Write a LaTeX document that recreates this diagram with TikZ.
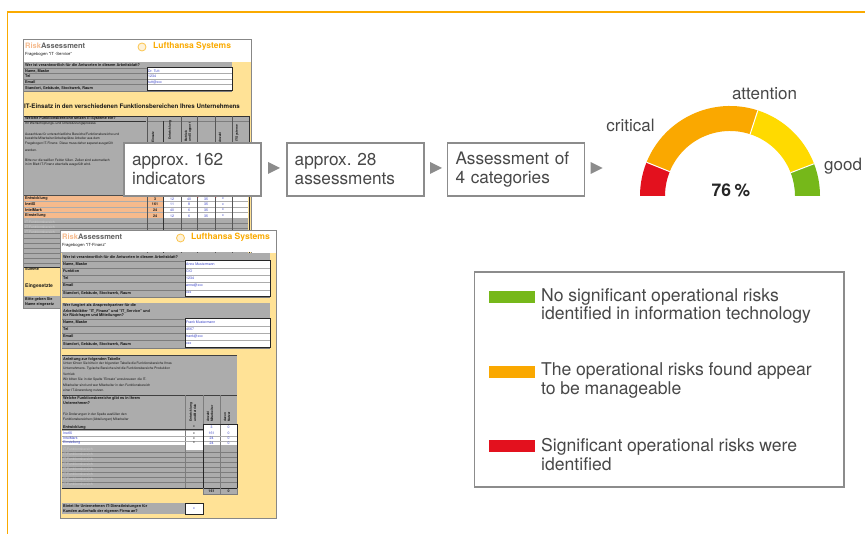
\documentclass[tikz,border=0pt]{standalone}
\usepackage{fontspec}
\setmainfont[WordSpace=0.95]{TeX Gyre Heros}
\usetikzlibrary{calc}
\definecolor{frameor}{RGB}{250,170,0}
\definecolor{ink}{RGB}{72,72,72}
\definecolor{sheetline}{RGB}{135,135,135}
\definecolor{boxline}{RGB}{140,140,140}
\definecolor{sheety}{RGB}{255,226,150}
\definecolor{rowgrey}{RGB}{172,172,172}
\definecolor{rowline}{RGB}{125,125,125}
\definecolor{peach}{RGB}{246,186,140}
\definecolor{gred}{RGB}{227,17,30}
\definecolor{gor}{RGB}{250,168,0}
\definecolor{gye}{RGB}{255,218,0}
\definecolor{ggr}{RGB}{118,184,26}
\definecolor{tiny}{RGB}{25,25,25}
\definecolor{tinyb}{RGB}{60,70,200}
\definecolor{pale}{RGB}{205,205,205}
\newcommand{\up}[1]{\raisebox{1.6pt}{#1}}
\tikzset{
 x=1pt,y=-1pt,
 stepbox/.style={draw=boxline,line width=1.8pt,fill=white,inner sep=0,minimum height=53pt,minimum width=137pt,text=ink,font=\frenchspacing\fontsize{17.2}{19}\selectfont,align=left,text width=121pt},
 tri/.style={fill=boxline,draw=none},
 lab/.style={text=ink,font=\fontsize{17}{19}\selectfont,inner sep=0},
 legt/.style={text=ink,font=\fontsize{17.6}{18.5}\selectfont,align=left,anchor=west,inner sep=0},
 legbar/.style={draw=none,minimum width=46pt,minimum height=12pt,inner sep=0,anchor=west},
 tt/.style={font=\fontsize{3.8}{4}\selectfont\bfseries,text=tiny,inner sep=0,anchor=west},
 tl/.style={font=\fontsize{3.3}{4}\selectfont,text=tiny,inner sep=0,anchor=west},
 tb/.style={font=\fontsize{3.5}{4}\selectfont,text=tinyb,inner sep=0,anchor=west},
 tp/.style={font=\fontsize{3.4}{4}\selectfont,text=pale,inner sep=0,anchor=west},
 tc/.style={font=\fontsize{3.5}{4}\selectfont,text=tinyb,inner sep=0},
 td/.style={font=\fontsize{3.6}{4}\selectfont\bfseries,text=tiny,inner sep=0},
 tv/.style={font=\fontsize{3.2}{4}\selectfont\bfseries,text=tiny,inner sep=0,rotate=90,anchor=west},
 sep/.style={draw=white,line width=1pt},
}
\newcommand{\seg}[3]{\fill[#3] (#1:90pt) arc[start angle=#1,end angle=#2,radius=90pt] -- (#2:65pt) arc[start angle=#2,end angle=#1,radius=65pt] -- cycle;}
\begin{document}
\begin{tikzpicture}
\useasboundingbox (0,0) rectangle (865,534);
\fill[white] (0,0) rectangle (865,534);
% frame
\draw[frameor,line width=1.7pt] (865,12) -- (7.5,12) -- (7.5,534);
% sheet 1
\fill[sheety] (24,62) rectangle (251,308);
\fill[white] (24,40) rectangle (251,61);
\node[font=\fontsize{7.5}{8}\selectfont\bfseries,inner sep=0,anchor=west] (s1a) at (25,46) {\textcolor{peach}{Risk}\textcolor{ink!85}{Assessment}};
\node[tt,font=\fontsize{4.2}{4}\selectfont] (s1b) at (25,54) {Fragebogen "IT -Service"};
\node[font=\fontsize{8.5}{9}\selectfont\bfseries,text=frameor,inner sep=0,anchor=west] (s1c) at (153,46.5) {Lufthansa Systems};
\draw[frameor!70,fill=frameor!15,line width=.8pt] (142,47) circle (4);
\fill[rowgrey] (24,62) rectangle (232,91);
\foreach \y in {68,73.5,79,84.5,91} \draw[rowline,line width=.4pt] (24,\y) -- (232,\y);
\node[tt] at (25,65) {Wer ist verantwortlich für die Antworten in diesem Arbeitsblatt?};
\node[tt] at (25,71) {Name, Maske};
\node[tt] at (25,76) {Tel};
\node[tt] at (25,82) {Email};
\node[tt] at (25,88) {Standort, Gebäude, Stockwerk, Raum};
\fill[white] (147,68) rectangle (232,91);
\foreach \y in {73.5,79,84.5} \draw[rowgrey,line width=.8pt] (147,\y) -- (232,\y);
\draw[black!85,line width=1pt] (147,68) rectangle (232,91);
\node[tb] at (148,71) {Dr. Tutt};
\node[tb] at (148,76) {1234};
\node[tb] at (148,82) {tutt@xxx};
\node[font=\fontsize{6.2}{6}\selectfont\bfseries,inner sep=0,anchor=west,text=tiny] at (24,106.5) {IT-Einsatz in den verschiedenen Funktionsbereichen Ihres Unternehmens};
\fill[rowgrey] (24,116) rectangle (249,196);
\draw[gray!40!black,line width=.5pt] (24,116) -- (249,116) (24,121) -- (146,121);
\draw[rowline,line width=.4pt] (147,121) -- (249,121);
\node[tt] at (25,118.5) {Welche Funktionsbereiche setzen IT-Systeme ein?};
\node[tl] at (25,124) {Ihr Wertschöpfungs- und Unterstützungsprozess};
\node[tl] at (25,134) {Ausschluss für unterschiedliche Bereiche/Funktionsbereiche und};
\node[tl] at (25,139) {bezahlte Mitarbeiter/Arbeitsplätze Arbeiter aus dem};
\node[tl] at (25,144) {Fragebogen IT-Finanz. Diese muss daher separat ausgefüllt};
\node[tl] at (25,150) {werden.};
\node[tl] at (25,160) {Bitte nur die weißen Felder füllen. Zellen sind automatisch};
\node[tl] at (25,165) {in im Blatt IT-Finanz ebenfalls ausgefüllt wird.};
\node[tv] at (153,143) {Einsatz};
\node[tv] at (170,140) {Entwicklung};
\node[tv] at (186,142) {Betrieb};
\node[tv] at (190,142) {und Support};
\node[tv] at (220,143) {Anzahl};
\node[tv] at (237,142) {IT-Systeme};
\fill[peach] (24,196) rectangle (163,218);
\fill[white] (163,196) rectangle (248,218);
\fill[rowgrey] (24,218) rectangle (248,267);
\foreach \y in {201,207,212.5,218} \draw[rowgrey,line width=.5pt] (24,\y) -- (248,\y);
\foreach \y in {223,228,233,238,243,248,253,258,263} \draw[rowline,line width=.4pt] (24,\y) -- (248,\y);
\foreach \x in {147,181,197,215,232} \draw[rowline!70!black,line width=.4pt] (\x,116) -- (\x,268);
\draw[black!80,line width=.8pt] (163,121) -- (163,268);
\draw[black!80,line width=.8pt] (249,116) -- (249,268);
\draw[black!70,line width=.5pt] (24,195.6) -- (249,195.6);
\foreach \y/\n/\t/\a/\b/\c/\d in {199/Entwicklung/3/12/40/35/x,204.5/InetIX/161/11/8/35/x,210/IntelMark/24/40/6/35/x,216/Einstellung/24/12/6/35/x}{
 \node[tt] at (25,\y) {\n};
 \node[td] at (155,\y) {\t};
 \node[tc] at (172,\y) {\a};
 \node[tc] at (189,\y) {\b};
 \node[tc] at (206,\y) {\c};
 \node[tc] at (223,\y) {\d};
}
\foreach \y in {222,227,232} \node[tp] at (25,\y) {IT-Funktionsbereich};
\foreach \p in {196.5,214.5} \fill[gred] (\p,196) -- (\p+1.6,196) -- (\p+1.6,198) -- cycle;
\draw[black!80,line width=.8pt] (24,267) -- (60,267);
\node[tt] at (25,269) {Summe};
\node[tt,font=\fontsize{5}{5}\selectfont\bfseries] at (25,286) {Eingesetzte};
\fill[rowgrey] (24,296) rectangle (60,308);
\node[tt] at (25,299.5) {Bitte geben Sie};
\node[tt] at (25,304.5) {Name eingesetz};
\draw[sheetline,line width=1.3pt] (23.5,39.5) rectangle (251.5,308.5);
% sheet 2
\fill[sheety] (61,253) rectangle (276,518);
\fill[white] (61,231) rectangle (276,252.5);
\node[font=\fontsize{7.5}{8}\selectfont\bfseries,inner sep=0,anchor=west] at (62,237) {\textcolor{peach}{Risk}\textcolor{ink!85}{Assessment}};
\node[tt,font=\fontsize{4.2}{4}\selectfont] at (62,245) {Fragebogen "IT-Finanz"};
\node[font=\fontsize{8.6}{9}\selectfont\bfseries,text=frameor,inner sep=0,anchor=west] at (191,237.5) {Lufthansa Systems};
\draw[frameor!70,fill=frameor!15,line width=.8pt] (180.5,238) circle (4);
\fill[rowgrey] (62,253) rectangle (270,297);
\foreach \y in {261,268,275,282,290,297} \draw[rowline,line width=.4pt] (62,\y) -- (270,\y);
\node[tt] at (63,257) {Wer ist verantwortlich für die Antworten in diesem Arbeitsblatt?};
\node[tt] at (63,264) {Name, Maske};
\node[tt] at (63,271) {Funktion};
\node[tt] at (63,278) {Tel};
\node[tt] at (63,285) {Email};
\node[tt] at (63,293) {Standort, Gebäude, Stockwerk, Raum};
\fill[white] (185,261) rectangle (270,297);
\foreach \y in {268,275,282,290} \draw[rowgrey,line width=.8pt] (185,\y) -- (270,\y);
\draw[black!85,line width=1pt] (185,261) rectangle (270,297);
\node[tb] at (186,264) {Anne Mustermann};
\node[tb] at (186,271) {CIO};
\node[tb] at (186,278) {1234};
\node[tb] at (186,285) {anne@xxx};
\node[tb] at (186,293) {xxx};
\fill[rowgrey] (62,303) rectangle (270,348);
\foreach \y in {319,326,333,340,348} \draw[rowline,line width=.4pt] (62,\y) -- (270,\y);
\node[tt] at (63,306) {Wer fungiert als Ansprechpartner für die};
\node[tt] at (63,311) {Arbeitsblätter "IT\_Finanz" und "IT\_Service" und};
\node[tt] at (63,316) {für Rückfragen und Mitteilungen?};
\node[tt] at (63,322.5) {Name, Maske};
\node[tt] at (63,329.5) {Tel};
\node[tt] at (63,336.5) {Email};
\node[tt] at (63,344) {Standort, Gebäude, Stockwerk, Raum};
\fill[white] (185,319) rectangle (270,348);
\foreach \y in {326,333,340} \draw[rowgrey,line width=.8pt] (185,\y) -- (270,\y);
\draw[black!85,line width=1pt] (185,319) rectangle (270,348);
\node[tb] at (186,322.5) {Frank Mustermann};
\node[tb] at (186,329.5) {4567};
\node[tb] at (186,336.5) {frank@xxx};
\node[tb] at (186,344) {xxx};
\fill[rowgrey] (62,355) rectangle (237,488);
\draw[gray!50!black,line width=.5pt] (62,355) -- (237,355) (62,395) -- (237,395);
\node[tt] at (63,359) {Anleitung zur folgenden Tabelle};
\foreach \y/\t in {364/Unten führen Sie bitte in der folgenden Tabelle die Funktionsbereiche Ihres,
 369/Unternehmens. Typische Bereiche sind die Funktionsbereiche Produktion\, ,
 374/Vertrieb/Marketing\, Verwaltung und Einkauf enthalten.,
 380/Wir bitten Sie\, in der Spalte "Einsatz" anzukreuzen\, die IT-,
 385/Mitarbeiter sind und wer Mitarbeiter in den Funktionsbereich,
 391/einer IT-Anwendung nutzen.}
 \node[tl] at (63,\y) {\t};
\node[tt] at (63,398) {Welche Funktionsbereiche gibt es in Ihrem};
\node[tt] at (63,403) {Unternehmen?};
\node[tl] at (63,414) {Für Änderungen in der Spalte ausfüllen den};
\node[tl] at (63,420) {Funktionsbereichen (Abteilungen) Mitarbeiter};
\node[tv] at (191,422) {Entwicklung};
\node[tv] at (195,422) {und Betrieb};
\node[tv] at (208,422) {Anzahl};
\node[tv] at (212,422) {Mitarbeiter};
\node[tv] at (225,422) {davon};
\node[tv] at (229,422) {Nutzer};
\fill[white] (62,431) rectangle (237,445);
\fill[white] (185,445) rectangle (203,450);
\fill[white] (203,424) rectangle (237,431);
\fill[rowgrey] (62,424) rectangle (203,429);
\foreach \x in {185,220} \draw[rowline,line width=.4pt] (\x,395) -- (\x,488);
\draw[rowline,line width=.4pt] (203,395) -- (203,424);
\foreach \y in {436.5,441} \draw[rowgrey,line width=.6pt] (62,\y) -- (237,\y);
\draw[black!80,line width=.8pt] (62,429) -- (203,429);
\node[tt] at (63,427) {Entwicklung};
\node[tb] at (63,433.7) {InetIX};
\node[tb] at (63,438.7) {IntelMark};
\node[tb] at (63,443) {Einstellung};
\foreach \y/\a/\b/\c in {427/x/3/0,433.7/x/161/0,438.7/x/24/0,443/x/24/0}{
 \node[tc,text=tiny] at (194,\y) {\a};
 \node[tc] at (211.5,\y) {\b};
 \node[tc] at (228.5,\y) {\c};
}
\foreach \y in {452,457,462,467,472,477,482} \draw[rowline,line width=.4pt] (62,\y) -- (237,\y);
\foreach \y in {449.5,454.5,459.5,464.5,469.5,474.5,479.5,484.5} \node[tp] at (63,\y) {IT-Funktionsbereich};
\fill[rowgrey] (203,488) rectangle (237,494);
\draw[black!85,line width=.9pt] (203,424) rectangle (237,488);
\draw[black!85,line width=.9pt] (62,488) -- (237,488);
\draw[rowline,line width=.5pt] (203,488) -- (203,494) -- (237,494) -- (237,488) (220,488) -- (220,494);
\node[td] at (211.5,491) {161};
\node[td] at (228.5,491) {0};
\fill[rowgrey] (62,503) rectangle (185,514);
\node[tt] at (63,506) {Bietet Ihr Unternehmen IT-Dienstleistungen für};
\node[tt] at (63,511) {Kunden außerhalb der eigenen Firma an?};
\fill[white] (185,503) rectangle (203,514);
\draw[black!85,line width=1pt] (185,503) rectangle (203,514);
\node[tb,anchor=center] at (194,508.5) {x};
\draw[sheetline,line width=1.3pt] (60.5,230.5) rectangle (276.5,518.5);
% flow
\node[stepbox] (a) at (192.5,169.3) {\up{approx. 162}\\\up{indicators}};
\node[stepbox] (b) at (355.2,169.3) {\up{approx. 28}\\\up{assessments}};
\node[stepbox] (c) at (516,169.3) {\up{Assessment of}\\\up{4 categories}};
\fill[tri] (268,162) -- (280,168) -- (268,174) -- cycle;
\fill[tri] (430,162) -- (442,168) -- (430,174) -- cycle;
\fill[tri] (590.7,162) -- (602.7,168) -- (590.7,174) -- cycle;
% gauge
\begin{scope}[shift={(730,196)},y=1pt,x=1pt]
\seg{158}{180}{gred}
\seg{72}{158}{gor}
\seg{21}{72}{gye}
\seg{0}{21}{ggr}
\draw[sep] (158:65pt) -- (158:90pt);
\draw[sep] (72:65pt) -- (72:90pt);
\draw[sep] (21:65pt) -- (21:90pt);
\end{scope}
\node[lab] (lc) at (630.5,125) {critical};
\node[lab] (la) at (764.5,93.5) {attention};
\node[lab,anchor=west] (lg) at (824,166) {good};
\node[font=\fontsize{17.5}{19}\selectfont\bfseries,text=black!85,inner sep=0] (pc) at (731,190) {76\hspace{3.5pt}\%};
% legend
\draw[boxline,line width=1.7pt,fill=white] (474.5,272) rectangle (844,487);
\node[legbar,fill=ggr] (g1) at (489,297) {};
\node[legt] (g2) at (541,306) {No significant operational risks\\identified in information technology};
\node[legbar,fill=gor] (o1) at (489,372) {};
\node[legt] (o2) at (541,380.5) {The operational risks found appear\\to be manageable};
\node[legbar,fill=gred] (r1) at (489,446) {};
\node[legt] (r2) at (541,454.5) {Significant operational risks were\\identified};
\end{tikzpicture}
\end{document}
